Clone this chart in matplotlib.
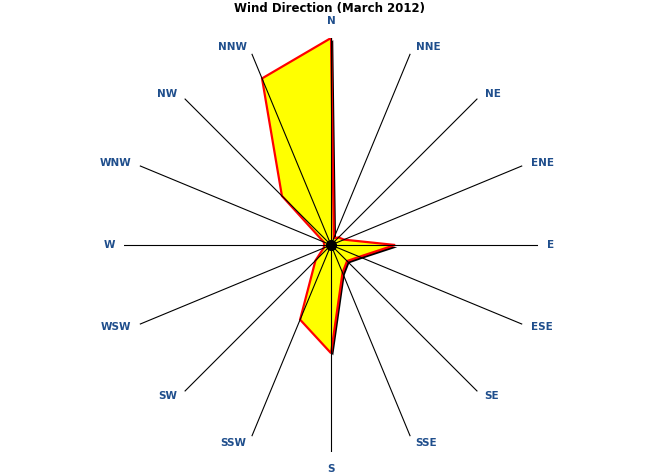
import numpy as np
import matplotlib
matplotlib.use("Agg")
import matplotlib.pyplot as plt
import matplotlib.patheffects as pe

# wind direction frequencies, March 2012 (clockwise from N)
directions = ['N', 'NNE', 'NE', 'ENE', 'E', 'ESE', 'SE', 'SSE',
              'S', 'SSW', 'SW', 'WSW', 'W', 'WNW', 'NW', 'NNW']
counts = [31, 1.1, 1.6, 2.1, 9.6, 4.6, 3.4, 4.5,
          16.2, 12.1, 3.3, 1.2, 1.0, 1.2, 10.4, 27.0]

theta = np.deg2rad(np.arange(len(directions)) * 22.5)
rmax = max(counts)

fig = plt.figure(figsize=(6.6, 4.75), dpi=100)
ax = fig.add_axes([0.1879, 0.0484, 0.6273, 0.8716], projection='polar')
ax.set_theta_zero_location('N')
ax.set_theta_direction(-1)
ax.set_ylim(0, rmax)
ax.grid(False)
ax.spines['polar'].set_visible(False)
ax.set_xticks([])
ax.set_yticks([])

# the data polygon, with a black drop shadow
th = np.append(theta, theta[0])
rr = np.append(counts, counts[0])
ax.fill(th, rr, facecolor='#FFFF00', edgecolor='#FF0000', linewidth=1.6, zorder=2,
        path_effects=[pe.SimplePatchShadow(offset=(1.6, -1.6), shadow_rgbFace='black', alpha=1.0),
                      pe.Normal()])

# spokes
for t in theta:
    ax.plot([t, t], [0, rmax], color='black', linewidth=0.8, zorder=3)
ax.plot([0], [0], 'o', color='black', markersize=7, zorder=4)

# direction labels, placed just beyond the end of each spoke
px = 0.72  # points per pixel
lab_font = dict(fontsize=7.5, fontweight='bold', color='#1F4E8C',
                family=['DejaVu Sans Condensed', 'DejaVu Sans'])
for t, name in zip(theta, directions):
    s, c = np.sin(t), np.cos(t)
    if abs(s) < 0.1:
        ha = 'center'
        dx = 0
        dy = 17 * np.sign(c)
    else:
        ha = 'left' if s > 0 else 'right'
        dx = np.sign(s) * (3 + 6 * abs(s))
        dy = 7 * c
    ax.annotate(name, xy=(t, rmax), xytext=(dx * px, dy * px), textcoords='offset points',
                ha=ha, va='center', annotation_clip=False, **lab_font)

fig.text(0.5, 0.982, 'Wind Direction (March 2012)', ha='center', va='center',
         fontsize=8.5, fontweight='bold', color='black')

plt.savefig('out.png', dpi=100)
